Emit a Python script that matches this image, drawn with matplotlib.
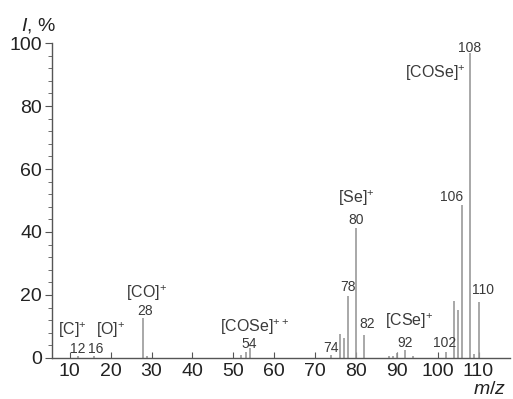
import matplotlib.pyplot as plt
from matplotlib.ticker import MultipleLocator

plt.rcParams['font.family'] = ['Liberation Sans', 'DejaVu Sans']
plt.rcParams['mathtext.fontset'] = 'custom'
plt.rcParams['mathtext.rm'] = 'Liberation Sans'
plt.rcParams['mathtext.it'] = 'Liberation Sans:italic'

# peak positions (m/z) and relative intensities (%)
mz = [12, 16, 28, 29, 52, 53, 54, 74, 76, 77, 78, 80, 82,
      88, 89, 90, 92, 94, 102, 104, 105, 106, 108, 109, 110]
intensity = [0.5, 0.5, 12.7, 0.5, 1.0, 2.0, 3.2, 1.0, 7.6, 6.4, 19.7, 41.3, 7.3,
             0.5, 0.5, 1.6, 2.5, 0.5, 2.0, 18.1, 15.2, 48.6, 97.0, 1.3, 17.8]

# peak number labels: text, x, y
num_labels = ['12', '16', '28', '54', '74', '78', '80', '82', '92', '102', '106', '108', '110']
num_x = [12, 16.4, 28.3, 53.9, 73.9, 78, 80, 82.7, 92, 101.7, 103.3, 107.8, 111.2]
num_y = [2.9, 2.9, 15, 4.5, 3.2, 22.5, 43.8, 10.8, 4.8, 4.8, 51, 98.4, 21.6]

# ion labels
ion_labels = ['[C]$^{+}$', '[O]$^{+}$', '[CO]$^{+}$', '[COSe]$^{++}$', '[Se]$^{+}$', '[CSe]$^{+}$', '[COSe]$^{+}$']
ion_x = [10.5, 20, 28.8, 55.3, 80, 93, 99.3]
ion_y = [8.9, 8.9, 20.6, 9.9, 50.8, 11.7, 90.5]

line_col = '#9a9a9a'
text_col = '#3a3a3a'

fig = plt.figure(figsize=(5.13, 3.99), dpi=100)
ax = fig.add_axes([0.101, 0.103, 0.894, 0.789])

ax.vlines(mz, 0, intensity, color=line_col, linewidth=1.2)

for t, x, y in zip(num_labels, num_x, num_y):
    ax.text(x, y, t, ha='center', va='center', fontsize=10, color=text_col)
for t, x, y in zip(ion_labels, ion_x, ion_y):
    ax.text(x, y, t, ha='center', va='center', fontsize=11.5, color=text_col)

ax.set_xlim(5.6, 117.8)
ax.set_ylim(0, 100)
ax.xaxis.set_major_locator(MultipleLocator(10))
ax.yaxis.set_major_locator(MultipleLocator(20))
ax.yaxis.set_minor_locator(MultipleLocator(4))

for s in ['top', 'right']:
    ax.spines[s].set_visible(False)
for s in ['left', 'bottom']:
    ax.spines[s].set_color('#555555')
    ax.spines[s].set_linewidth(1.0)

ax.tick_params(axis='x', direction='in', length=4, labelsize=14, colors='#555555',
               labelcolor='#222222', pad=4)
ax.tick_params(axis='y', which='major', direction='out', length=5, labelsize=14,
               colors='#555555', labelcolor='#222222', pad=2)
ax.tick_params(axis='y', which='minor', direction='out', length=3, colors='#555555')

fig.text(0.075, 0.935, '$I$, %', fontsize=14, color='#222222', ha='center', va='center')
fig.text(0.955, 0.025, '$m/z$', fontsize=14, color='#222222', ha='center', va='center')

fig.savefig('out.png', dpi=100, facecolor='white')
